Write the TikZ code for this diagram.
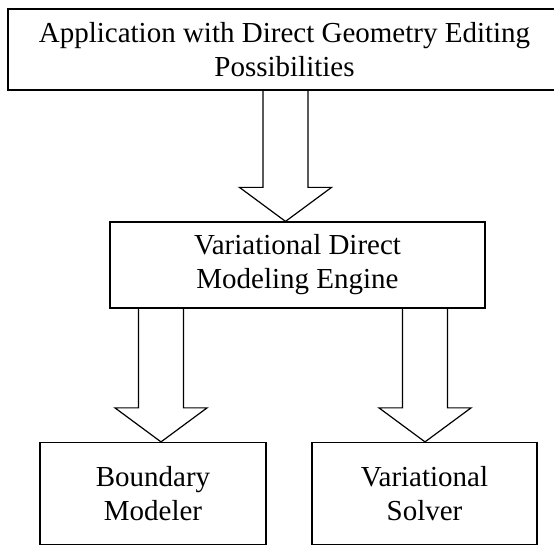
\documentclass[tikz,border=0pt]{standalone}
\usepackage{fontspec}
\setmainfont{Liberation Serif}
\usetikzlibrary{positioning}

\newcommand\blockarrow[3]{%
 \path (#2.south -| #1) coordinate (s) (#3.north -| #1) coordinate (t);
 \draw[blk] ([xshift=-22.5pt]s) -- ([xshift=-22.5pt,yshift=34pt]t) -- ([xshift=-46pt,yshift=34pt]t) -- (t)
  -- ([xshift=46pt,yshift=34pt]t) -- ([xshift=22.5pt,yshift=34pt]t) -- ([xshift=22.5pt]s);}

\begin{document}
\begin{tikzpicture}[x=1pt,y=1pt,
 box/.style={draw,line width=1.2pt,align=center,inner sep=0pt,font=\fontsize{29}{34}\selectfont},
 blk/.style={draw,line width=1.2pt}]
 \clip (0,0) rectangle (554,546);
 \node[box,minimum width=553pt,minimum height=81pt] (app) at (284.5,496.5) {Application with Direct Geometry Editing\\Possibilities};
 \node[box,minimum width=375pt,minimum height=86pt] (engine) at (297.5,281) {Variational Direct\\Modeling Engine};
 \node[box,minimum width=226pt,minimum height=102pt] (brep) at (153,52.5) {Boundary\\Modeler};
 \node[box,minimum width=225pt,minimum height=102pt] (solver) at (424.5,52.5) {Variational\\Solver};
 \coordinate (ax1) at (285.5,0);
 \coordinate (ax2) at (161,0);
 \coordinate (ax3) at (425,0);
 \blockarrow{ax1}{app}{engine}
 \blockarrow{ax2}{engine}{brep}
 \blockarrow{ax3}{engine}{solver}
\end{tikzpicture}
\end{document}
